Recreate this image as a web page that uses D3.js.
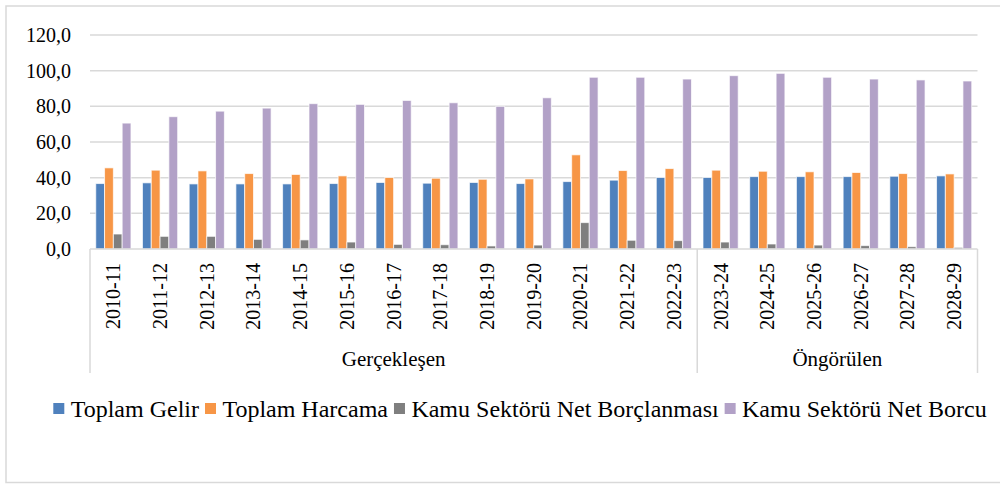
<!DOCTYPE html>
<html>
<head>
<meta charset="utf-8">
<script src="https://cdn.jsdelivr.net/npm/d3@7"></script>
</head>
<body style="margin:0">
<svg id="chart" width="1000" height="487"></svg>
<script>
const categories = ["2010-11","2011-12","2012-13","2013-14","2014-15","2015-16","2016-17","2017-18","2018-19","2019-20","2020-21","2021-22","2022-23","2023-24","2024-25","2025-26","2026-27","2027-28","2028-29"];
const seriesNames = ["Toplam Gelir","Toplam Harcama","Kamu Sektörü Net Borçlanması","Kamu Sektörü Net Borcu"];
const toplamGelir = [36.7, 37.1, 36.5, 36.5, 36.5, 36.7, 37.3, 36.9, 37.3, 36.7, 37.8, 38.6, 40.1, 40.1, 40.6, 40.6, 40.6, 40.8, 41.0];
const toplamHarcama = [45.5, 44.2, 43.8, 42.3, 41.8, 41.0, 40.1, 39.7, 39.1, 39.3, 52.8, 44.0, 45.1, 44.2, 43.6, 43.3, 42.9, 42.3, 42.1];
const netBorclanma = [8.4, 7.1, 7.1, 5.4, 5.1, 3.9, 2.6, 2.4, 1.7, 2.2, 14.8, 4.9, 4.7, 3.9, 2.8, 2.2, 1.9, 1.3, 0.9];
const netBorc = [70.6, 74.2, 77.3, 79.0, 81.5, 81.1, 83.3, 82.0, 80.0, 84.8, 96.3, 96.3, 95.3, 97.2, 98.5, 96.3, 95.3, 94.8, 94.2];
const groupLabels = ["Gerçekleşen","Öngörülen"];
const groupSizes = [13, 6];
const yTicks = [0, 20, 40, 60, 80, 100, 120];
const colors = ["#4f81bd","#f79646","#7f7f7f","#b2a1c7"];

const series = [toplamGelir, toplamHarcama, netBorclanma, netBorc];
const FONT = "serif";

const svg = d3.select("#chart");
const gridColor = "#d9d9d9";

function setFont(sel, size) {
  return sel.style("font-family", FONT).style("font-size", size + "px");
}

// outer border
svg.append("rect").attr("x", 6).attr("y", 6).attr("width", 1010).attr("height", 476.5)
  .attr("fill", "none").attr("stroke", gridColor).attr("stroke-width", 1.5);

const plotLeft = 90, plotRight = 977.5, plotTop = 35, plotBottom = 249;

const y = d3.scaleLinear().domain([0, 120]).range([plotBottom, plotTop]);
const x0 = d3.scaleBand().domain(categories).range([plotLeft, plotRight]).paddingInner(0).paddingOuter(0);
const groupW = 35.2;
const x1 = d3.scaleBand().domain(d3.range(series.length)).range([(x0.bandwidth() - groupW) / 2, (x0.bandwidth() + groupW) / 2]).padding(0);

// gridlines
svg.append("g").selectAll("line").data(yTicks.filter(d => d > 0)).join("line")
  .attr("x1", plotLeft).attr("x2", plotRight)
  .attr("y1", d => y(d)).attr("y2", d => y(d))
  .attr("stroke", gridColor).attr("stroke-width", 1.5);

// y axis labels (positions from d3 axis)
const fmt = d => d3.format(".1f")(d).replace(".", ",");
const yAxis = d3.axisLeft(y).tickValues(yTicks).tickFormat(fmt).tickSize(0).tickPadding(19);
const yg = svg.append("g").attr("transform", `translate(${plotLeft},0)`).call(yAxis);
yg.attr("font-family", null).attr("font-size", null);
yg.select(".domain").remove();
setFont(yg.selectAll("text").attr("fill", "#000"), 20);

// bars
const barsG = svg.append("g");
categories.forEach((c, i) => {
  series.forEach((s, k) => {
    barsG.append("rect")
      .attr("x", x0(c) + x1(k))
      .attr("width", x1.bandwidth())
      .attr("y", y(s[i]))
      .attr("height", y(0) - y(s[i]))
      .attr("fill", colors[k])
      .attr("stroke", "#ffffff").attr("stroke-opacity", 0.7).attr("stroke-width", 1);
  });
});

// category axis line
svg.append("line").attr("x1", plotLeft).attr("x2", plotRight).attr("y1", plotBottom).attr("y2", plotBottom)
  .attr("stroke", gridColor).attr("stroke-width", 1.5);

// category labels
categories.forEach(d => {
  setFont(svg.append("text"), 20)
    .attr("transform", `translate(${x0(d) + x0.bandwidth() / 2},263) rotate(-90)`)
    .attr("text-anchor", "end").attr("dy", "0.35em")
    .text(d);
});

// group separators and labels
let idx = 0;
const bounds = [0];
groupSizes.forEach(n => { idx += n; bounds.push(idx); });
const sepX = bounds.map(b => b < categories.length ? x0(categories[b]) : plotRight);
sepX.forEach(sx => {
  svg.append("line").attr("x1", sx).attr("x2", sx).attr("y1", plotBottom).attr("y2", 373)
    .attr("stroke", gridColor).attr("stroke-width", 1.5);
});
groupLabels.forEach((d, i) => {
  setFont(svg.append("text"), 21)
    .attr("x", (sepX[i] + sepX[i + 1]) / 2)
    .attr("y", 366)
    .attr("text-anchor", "middle")
    .text(d);
});

// legend
let lx = 53.3;
seriesNames.forEach((name, k) => {
  svg.append("rect").attr("x", lx).attr("y", 403).attr("width", 11).attr("height", 11).attr("fill", colors[k]);
  const t = setFont(svg.append("text"), 24).attr("x", lx + 17.4).attr("y", 416.5).text(name);
  const w = t.node().getComputedTextLength();
  lx = lx + 17.4 + w + 6;
});
</script>
</body>
</html>
